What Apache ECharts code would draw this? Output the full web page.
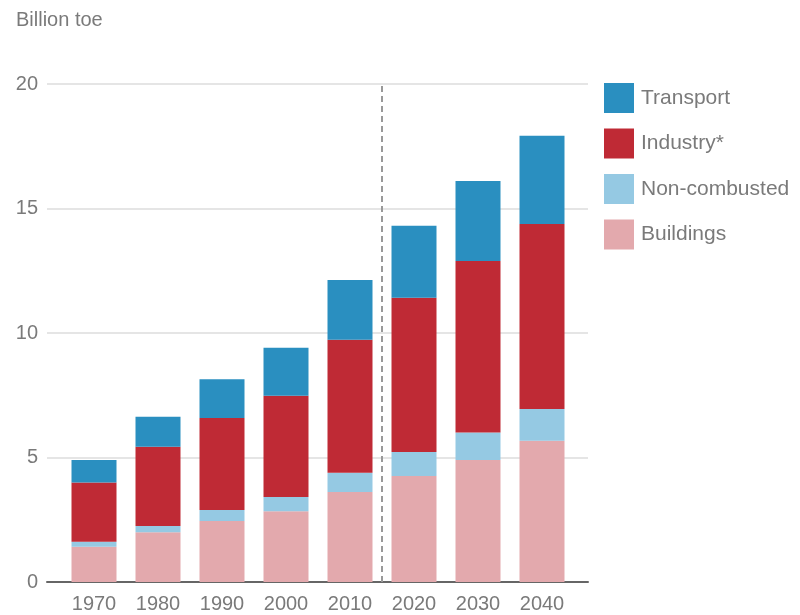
<!DOCTYPE html>
<html><head><meta charset="utf-8">
<script src="https://cdn.jsdelivr.net/npm/echarts@6/dist/echarts.min.js"></script>
<style>html,body{margin:0;padding:0;background:#fff}#c{width:800px;height:615px}</style>
</head><body><div id="c"></div>
<script>
var categories = ['1970','1980','1990','2000','2010','2020','2030','2040'];
var buildings = [1.42, 2.00, 2.45, 2.84, 3.61, 4.26, 4.90, 5.67];
var nonCombusted = [0.20, 0.25, 0.44, 0.57, 0.78, 0.96, 1.10, 1.28];
var industry = [2.38, 3.18, 3.70, 4.07, 5.34, 6.20, 6.89, 7.43];
var transport = [0.90, 1.21, 1.55, 1.93, 2.40, 2.89, 3.21, 3.54];
var yTicks = [0, 5, 10, 15, 20];
var dividerIndex = 5; // boundary between historical and projected
var axisUnit = 'Billion toe';

var font = 'Liberation Sans, Arial, sans-serif';
var txt = '#7a7a7a';
var chart = echarts.init(document.getElementById('c'));
function barSeries(name, data, color) {
  return { name: name, type: 'bar', stack: 'total', data: data, barWidth: 45,
    xAxisIndex: 1, yAxisIndex: 1,
    itemStyle: { color: color }, emphasis: { disabled: true } };
}
chart.setOption({
  animation: false,
  textStyle: { fontFamily: font },
  title: { text: axisUnit, left: 11, top: 5,
    textStyle: { fontSize: 20, fontWeight: 'normal', color: txt, fontFamily: font } },
  legend: {
    orient: 'vertical', left: 599, top: 78, itemWidth: 30, itemHeight: 30, itemGap: 15.5,
    icon: 'rect',
    data: ['Transport', 'Industry*', 'Non-combusted', 'Buildings'],
    textStyle: { fontSize: 21, color: txt, fontFamily: font, padding: [0, 0, 0, 2] }
  },
  grid: [
    { left: 47, right: 212, top: 84, bottom: 33 },
    { left: 62, right: 226, top: 84, bottom: 33 }
  ],
  xAxis: [
    { gridIndex: 0, type: 'value', min: 0, max: 1, axisLabel: { show: false },
      axisTick: { show: false }, splitLine: { show: false },
      axisLine: { show: true, lineStyle: { color: '#666', width: 2 } } },
    { gridIndex: 1, type: 'category', data: categories,
      axisLine: { show: false }, axisTick: { show: false },
      axisLabel: { fontSize: 20, color: txt, margin: 12, fontFamily: font } },
    { gridIndex: 1, type: 'value', min: 0, max: categories.length, show: false }
  ],
  yAxis: [
    { gridIndex: 0, type: 'value', min: yTicks[0], max: yTicks[yTicks.length - 1], interval: 5,
      axisLine: { show: false }, axisTick: { show: false },
      axisLabel: { fontSize: 20, color: txt, margin: 9, fontFamily: font },
      splitLine: { lineStyle: { color: '#dcdcdc', width: 1.5 } } },
    { gridIndex: 1, type: 'value', min: 0, max: 20, show: false }
  ],
  series: [
    barSeries('Buildings', buildings, '#e3a9ad'),
    barSeries('Non-combusted', nonCombusted, '#95c9e3'),
    barSeries('Industry*', industry, '#bf2a35'),
    barSeries('Transport', transport, '#2a8fc0'),
    { type: 'line', xAxisIndex: 2, yAxisIndex: 1, data: [[dividerIndex, 0], [dividerIndex, 20]],
      symbol: 'none', silent: true, z: 5,
      lineStyle: { color: '#999', width: 2, type: [6, 4] } }
  ]
});
</script></body></html>
